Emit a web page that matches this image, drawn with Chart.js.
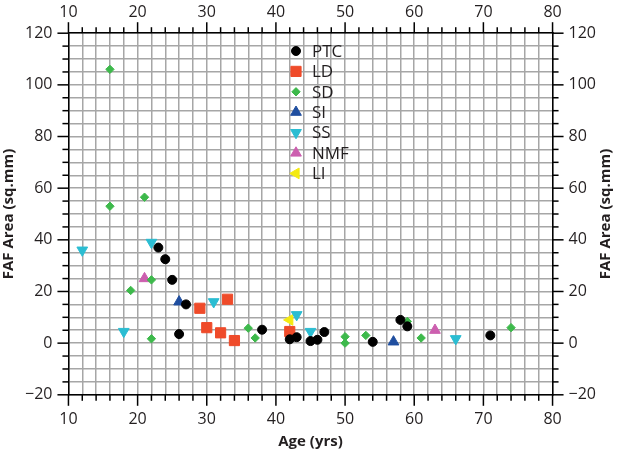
<!DOCTYPE html>
<html>
<head>
<meta charset="utf-8">
<script src="https://cdn.jsdelivr.net/npm/chart.js@4/dist/chart.umd.min.js"></script>
<style>
  html, body { margin: 0; padding: 0; background: #fff; }
  canvas { display: block; }
</style>
</head>
<body>
<canvas id="faf" width="622" height="452"></canvas>
<script>
// ===== data (age in years, FAF area in sq.mm) =====
const ptcAge  = [23, 24, 25, 27, 26, 38, 42, 43, 45, 46, 47, 54, 58, 59, 71];
const ptcArea = [37, 32.5, 24.5, 15, 3.5, 5.2, 1.5, 2.3, 0.8, 1.3, 4.3, 0.5, 9, 6.5, 3];

const ldAge  = [29, 30, 32, 33, 34, 42];
const ldArea = [13.5, 6, 4, 17, 1, 4.5];

const sdAge  = [16, 16, 21, 22, 19, 22, 36, 37, 50, 50, 53, 59, 61, 74];
const sdArea = [106, 53, 56.5, 24.5, 20.4, 1.7, 5.8, 2, 2.5, 0, 3, 8.4, 2, 6];

const siAge  = [26, 57];
const siArea = [16, 0.5];

const ssAge  = [12, 22, 18, 31, 43, 45, 66];
const ssArea = [36, 39, 4.5, 16, 11, 4.5, 1.7];

const nmfAge  = [21, 63];
const nmfArea = [25, 5];

const liAge  = [42];
const liArea = [9];

const ageTickLabels  = [10, 20, 30, 40, 50, 60, 70, 80];
const areaTickLabels = [-20, 0, 20, 40, 60, 80, 100, 120];

const FONT = "'Open Sans', 'DejaVu Sans', sans-serif";
const GRID = '#a6a6a6';
const INK = '#231f20';

function pts(xs, ys) {
    return xs.map((x, i) => ({ x, y: ys[i] }));
}

function series(label, xs, ys, color, style, radius, rotation) {
    return {
        label,
        data: pts(xs, ys),
        pointStyle: style,
        pointRadius: radius,
        pointHoverRadius: radius,
        pointRotation: rotation || 0,
        pointBackgroundColor: color,
        pointBorderColor: color,
        pointBorderWidth: 1,
        showLine: false
    };
}

const datasets = [
    series('PTC', ptcAge, ptcArea, '#000000', 'circle', 4.5),
    series('LD', ldAge, ldArea, '#ef4b2a', 'rect', 7.2),
    series('SD', sdAge, sdArea, '#3db94b', 'rectRot', 4.2),
    series('SI', siAge, siArea, '#1f4e9f', 'triangle', 6.2),
    series('SS', ssAge, ssArea, '#2bbdd2', 'triangle', 6.2, 180),
    series('NMF', nmfAge, nmfArea, '#cc5faf', 'triangle', 6.2),
    series('LI', liAge, liArea, '#f4ea12', 'triangle', 6.2, -90)
];

// ===== helpers =====
const minus = v => (v < 0 ? '\u2212' + Math.abs(v) : String(v));

function axisX(pos, withTitle) {
    return {
        type: 'linear',
        position: pos,
        min: 10,
        max: 80,
        grid: {
            color: GRID,
            lineWidth: 1.5,
            drawOnChartArea: pos === 'bottom',
            tickLength: 11,
            tickColor: 'transparent'
        },
        border: { color: '#000', width: 1.5 },
        ticks: {
            stepSize: 2,
            autoSkip: false,
            maxRotation: 0,
            padding: pos === 'top' ? 0 : 4,
            color: INK,
            font: { family: FONT, size: 16 },
            callback: v => (ageTickLabels.includes(v) ? String(v) : '')
        },
        title: {
            display: withTitle,
            text: 'Age (yrs)',
            color: INK,
            font: { family: FONT, size: 15, weight: 'bold' },
            padding: { top: 0, bottom: 0 }
        }
    };
}

function axisY(pos) {
    return {
        type: 'linear',
        position: pos,
        min: -20,
        max: 120,
        grid: {
            color: GRID,
            lineWidth: 1.5,
            drawOnChartArea: pos === 'left',
            tickLength: 11,
            tickColor: 'transparent'
        },
        border: { color: '#000', width: 1.5 },
        ticks: {
            stepSize: 5,
            autoSkip: false,
            padding: 5,
            color: INK,
            font: { family: FONT, size: 16 },
            callback: v => (areaTickLabels.includes(v) ? minus(v) : '')
        },
        title: {
            display: true,
            text: 'FAF Area (sq.mm)',
            color: INK,
            font: { family: FONT, size: 15, weight: 'bold' },
            padding: { top: 0, bottom: 2 }
        }
    };
}

// outward tick marks, longer on labelled values
const tickMarks = {
    id: 'tickMarks',
    afterDraw(chart) {
        const ctx = chart.ctx;
        ctx.save();
        ctx.strokeStyle = '#000';
        ctx.lineWidth = 1.5;
        Object.values(chart.scales).forEach(scale => {
            const major = scale.axis === 'x' ? ageTickLabels : areaTickLabels;
            scale.ticks.forEach(t => {
                const len = major.includes(t.value) ? 11 : 6;
                const p = scale.getPixelForValue(t.value);
                ctx.beginPath();
                if (scale.position === 'bottom') { ctx.moveTo(p, scale.top); ctx.lineTo(p, scale.top + len); }
                if (scale.position === 'top')    { ctx.moveTo(p, scale.bottom); ctx.lineTo(p, scale.bottom - len); }
                if (scale.position === 'left')   { ctx.moveTo(scale.right, p); ctx.lineTo(scale.right - len, p); }
                if (scale.position === 'right')  { ctx.moveTo(scale.left, p); ctx.lineTo(scale.left + len, p); }
                ctx.stroke();
            });
        });
        ctx.restore();
    }
};

// right title reads bottom-to-top like the left one
const rightTitle = {
    id: 'rightTitle',
    afterDraw(chart) {
        const s = chart.scales.y2;
        const ctx = chart.ctx;
        ctx.save();
        ctx.translate(606, (s.top + s.bottom) / 2);
        ctx.rotate(-Math.PI / 2);
        ctx.fillStyle = INK;
        ctx.font = `bold 15px ${FONT}`;
        ctx.textAlign = 'center';
        ctx.textBaseline = 'middle';
        ctx.fillText('FAF Area (sq.mm)', 0, 0);
        ctx.restore();
    }
};

// legend sits inside the plot
const innerLegend = {
    id: 'innerLegend',
    afterDatasetsDraw(chart) {
        const ctx = chart.ctx;
        const x0 = 296, y0 = 51, gap = 20.4;
        ctx.save();
        chart.data.datasets.forEach((ds, i) => {
            const y = y0 + i * gap;
            ctx.fillStyle = ds.pointBackgroundColor;
            ctx.strokeStyle = ds.pointBorderColor;
            ctx.lineWidth = 1;
            Chart.helpers.drawPoint(ctx, {
                pointStyle: ds.pointStyle,
                radius: ds.pointRadius,
                rotation: ds.pointRotation,
                borderWidth: 1
            }, x0, y);
            ctx.fillStyle = INK;
            ctx.font = `17px ${FONT}`;
            ctx.textAlign = 'left';
            ctx.textBaseline = 'middle';
            ctx.fillText(ds.label, x0 + 16, y + 1);
        });
        ctx.restore();
    }
};

const yRight = axisY('right');
yRight.title.display = false;
yRight.title.text = '';

new Chart(document.getElementById('faf'), {
    type: 'scatter',
    data: { datasets },
    options: {
        responsive: false,
        animation: false,
        layout: { padding: { left: 0, right: 21, top: 3, bottom: 1 } },
        scales: {
            x: axisX('bottom', true),
            x2: axisX('top', false),
            y: axisY('left'),
            y2: yRight
        },
        plugins: {
            legend: { display: false },
            tooltip: { enabled: false }
        }
    },
    plugins: [tickMarks, rightTitle, innerLegend]
});
</script>
</body>
</html>
